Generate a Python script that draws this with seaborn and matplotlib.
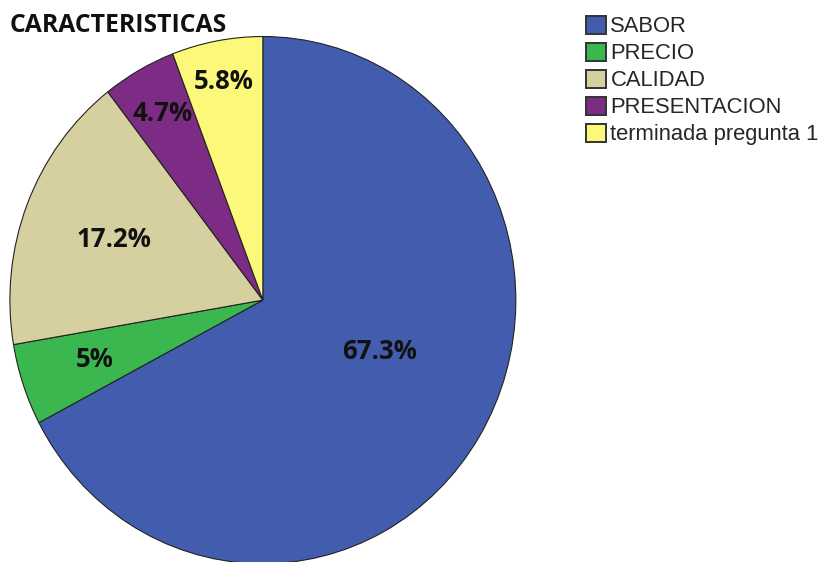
import matplotlib
matplotlib.use("Agg")
import numpy as np
import matplotlib.pyplot as plt
import seaborn as sns
from matplotlib.patches import Patch

sns.set_theme(style="white")

categorias = ["SABOR", "PRECIO", "CALIDAD", "PRESENTACION", "terminada pregunta 1"]
porcentajes = [67.3, 5.0, 17.2, 4.7, 5.8]
etiquetas = ["67.3%", "5%", "17.2%", "4.7%", "5.8%"]
colores = ["#435DAE", "#3BB74F", "#D6CF9F", "#7C2C84", "#FBF87A"]
# label placement: fraction of radius and angular nudge (deg) per wedge
dist_etiquetas = [0.50, 0.70, 0.63, 0.81, 0.845]
giro_etiquetas = [8, 0, 0, 0, 0]

fig = plt.figure(figsize=(8.24, 5.62), dpi=100)
ax = fig.add_axes([0.012, -0.003, 0.614, 0.938])

wedges, texts = ax.pie(porcentajes, colors=colores, startangle=90,
                       counterclock=False,
                       wedgeprops={"edgecolor": "#222222", "linewidth": 0.8})
ax.set_aspect("auto")
ax.set_xlim(-1, 1)
ax.set_ylim(-1, 1)

for w, lab, d, g in zip(wedges, etiquetas, dist_etiquetas, giro_etiquetas):
    ang = np.deg2rad((w.theta1 + w.theta2) / 2 + g)
    ax.text(d * np.cos(ang), d * np.sin(ang), lab, ha="center", va="center",
            fontsize=18.5, fontweight="bold", family="Open Sans", color="#111111")

fig.text(0.012, 0.955, "CARACTERISTICAS", fontsize=17.8, fontweight="bold",
         family="Open Sans", color="#111111", ha="left", va="center")

handles = [Patch(facecolor=c, edgecolor="#333333", linewidth=1.4) for c in colores]
fig.legend(handles, categorias, loc="upper left", bbox_to_anchor=(0.711, 0.972),
           frameon=False, prop={"family": "Liberation Sans", "size": 15.8},
           handlelength=0.9, handleheight=0.9, handletextpad=0.22,
           labelspacing=0.24, borderaxespad=0, borderpad=0)

fig.savefig("out.png", dpi=100)
